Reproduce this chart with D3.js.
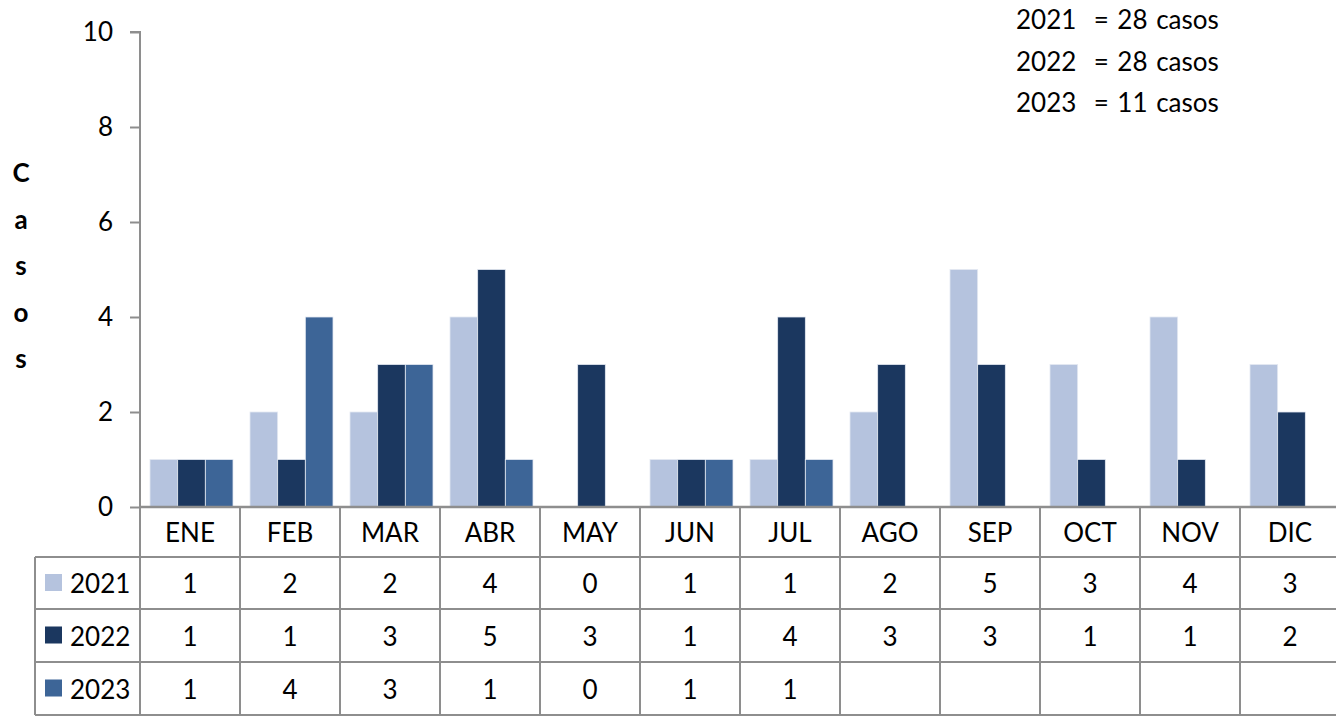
<!DOCTYPE html>
<html><head><meta charset="utf-8">
<script src="https://cdn.jsdelivr.net/npm/d3@7"></script>
<style>
html,body{margin:0;padding:0;background:#fff;}
svg{display:block;font-family:Lato, "Open Sans", sans-serif;}
</style></head>
<body>
<svg id="chart" width="1336" height="721"></svg>
<script>
const months = ["ENE","FEB","MAR","ABR","MAY","JUN","JUL","AGO","SEP","OCT","NOV","DIC"];
const years = ["2021","2022","2023"];
const values2021 = [1,2,2,4,0,1,1,2,5,3,4,3];
const values2022 = [1,1,3,5,3,1,4,3,3,1,1,2];
const values2023 = [1,4,3,1,0,1,1,null,null,null,null,null];
const colors = ["#b5c3de","#1b375f","#3d6597"];
const yTicks = [0,2,4,6,8,10];
const totals = ["2021  = 28 casos","2022  = 28 casos","2023  = 11 casos"];
const yTitle = "Casos";

const seriesVals = [values2021, values2022, values2023];
const svg = d3.select("#chart");
const lineColor = "#8e8e8e";
const fs = 26;

const x0 = d3.scaleBand().domain(months).range([140, 1340]);
const x1 = d3.scaleBand().domain(years).range([10, 93]);
const y = d3.scaleLinear().domain([0, 10]).range([507, 32]);

// Bars
years.forEach((yr, si) => {
  svg.append("g").selectAll("rect")
    .data(months.map((m, i) => ({m, v: seriesVals[si][i]})).filter(d => d.v))
    .join("rect")
    .attr("x", d => x0(d.m) + x1(yr))
    .attr("width", x1.bandwidth())
    .attr("y", d => y(d.v))
    .attr("height", d => y(0) - y(d.v))
    .attr("fill", colors[si])
    .attr("stroke", "#e4e9f2")
    .attr("stroke-width", 0.8);
});

// Y axis
const yAxis = d3.axisLeft(y).tickValues(yTicks).tickSize(10).tickPadding(17);
const ga = svg.append("g").attr("transform", "translate(140,0)").call(yAxis);
ga.select(".domain").attr("stroke", lineColor).attr("stroke-width", 2).attr("d", "M-10,32H0V507");
ga.selectAll(".tick line").attr("stroke", lineColor).attr("stroke-width", 2);
ga.selectAll(".tick text").attr("font-size", fs).attr("fill", "#000").attr("font-family", "Lato, sans-serif");

// Y title stacked letters
svg.append("g").selectAll("text")
  .data(yTitle.split(""))
  .join("text")
  .attr("x", 21)
  .attr("y", (d, i) => 182 + i * 46.5)
  .attr("text-anchor", "middle")
  .attr("font-size", 26)
  .attr("font-weight", "bold")
  .text(d => d);

// Table
const rowTop = [507, 557, 609, 662];
const tableBottom = 715;
const tg = svg.append("g");
tg.append("line").attr("x1", 140).attr("x2", 1340).attr("y1", 507).attr("y2", 507)
  .attr("stroke", lineColor).attr("stroke-width", 2.5);
[557, 609, 662, 715].forEach(yy => {
  tg.append("line").attr("x1", 35).attr("x2", 1340).attr("y1", yy).attr("y2", yy)
    .attr("stroke", lineColor).attr("stroke-width", 2);
});
months.forEach(m => {
  tg.append("line").attr("x1", x0(m)).attr("x2", x0(m)).attr("y1", 507).attr("y2", tableBottom)
    .attr("stroke", lineColor).attr("stroke-width", 2);
});
tg.append("line").attr("x1", 1340).attr("x2", 1340).attr("y1", 507).attr("y2", tableBottom)
  .attr("stroke", lineColor).attr("stroke-width", 2);
tg.append("line").attr("x1", 35).attr("x2", 35).attr("y1", 557).attr("y2", tableBottom)
  .attr("stroke", lineColor).attr("stroke-width", 2);

tg.selectAll("text.m").data(months).join("text")
  .attr("class", "m")
  .attr("x", d => x0(d) + x0.bandwidth() / 2)
  .attr("y", 542)
  .attr("text-anchor", "middle")
  .attr("font-size", fs)
  .text(d => d);

years.forEach((yr, si) => {
  const top = rowTop[si + 1];
  const next = si < 2 ? rowTop[si + 2] : tableBottom;
  const cy = (top + next) / 2;
  tg.append("rect").attr("x", 45).attr("y", cy - 9).attr("width", 17).attr("height", 17).attr("fill", colors[si]);
  tg.append("text").attr("x", 70).attr("y", cy + 10).attr("font-size", fs).text(yr);
  tg.append("g").selectAll("text")
    .data(months.map((m, i) => ({m, v: seriesVals[si][i]})).filter(d => d.v !== null))
    .join("text")
    .attr("x", d => x0(d.m) + x0.bandwidth() / 2)
    .attr("y", cy + 10)
    .attr("text-anchor", "middle")
    .attr("font-size", fs)
    .text(d => d.v);
});

svg.append("g").selectAll("text").data(totals).join("text")
  .attr("x", 1016)
  .attr("y", (d, i) => 29 + i * 41.5)
  .attr("font-size", fs)
  .attr("word-spacing", 2)
  .attr("xml:space", "preserve")
  .style("white-space", "pre")
  .text(d => d);
</script>
</body></html>
